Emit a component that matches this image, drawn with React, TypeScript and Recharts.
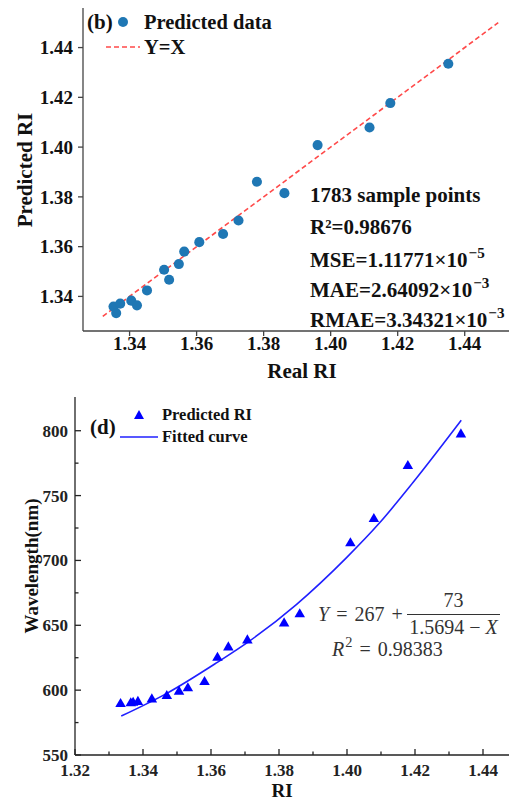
import { ComposedChart, Scatter, Line, XAxis, YAxis, ZAxis } from "recharts";

const serif = "'Liberation Serif', 'Times New Roman', serif";

// (b) predicted RI vs real RI
const realRI = [
  1.3352, 1.336, 1.3372, 1.3405, 1.3422, 1.3452, 1.3503, 1.3518, 1.3547, 1.3563,
  1.3608, 1.3679, 1.3725, 1.378, 1.3862, 1.3961, 1.4116, 1.4178, 1.4351,
];
const predictedRI = [
  1.3359, 1.3333, 1.3371, 1.3383, 1.3364, 1.3424, 1.3507, 1.3467, 1.353, 1.358,
  1.3618, 1.3651, 1.3705, 1.3861, 1.3815, 1.4008, 1.4079, 1.4177, 1.4335,
];
const identityX = [1.332, 1.45];
const riTicksB = [1.34, 1.36, 1.38, 1.4, 1.42, 1.44];

// (d) resonance wavelength vs RI
const sensorRI = [
  1.3334, 1.3364, 1.3371, 1.3385, 1.3426, 1.347, 1.3506, 1.3532, 1.3581, 1.3619,
  1.3651, 1.3707, 1.3815, 1.3861, 1.401, 1.4079, 1.4179, 1.4335,
];
const wavelength = [
  589.3, 589.9, 590.3, 590.9, 592.9, 595.5, 598.8, 601.4, 606.3, 625.0, 633.0,
  638.4, 651.5, 658.5, 713.2, 731.9, 772.8, 797.2,
];
const fitRI = [1.3336, 1.347, 1.3616, 1.3714, 1.3851, 1.3998, 1.4096, 1.4194, 1.4336];
const fitWavelength = [580, 597.5, 621, 638, 666, 702, 729, 760, 808];
const riMajor = [1.32, 1.34, 1.36, 1.38, 1.4, 1.42, 1.44];
const riMinor = [1.33, 1.35, 1.37, 1.39, 1.41, 1.43];
const wlMajor = [550, 600, 650, 700, 750, 800];
const wlMinor = [575, 625, 675, 725, 775];

const pointsB = realRI.map((x, i) => ({ x, y: predictedRI[i] }));
const identityData = identityX.map((x) => ({ x, y: x }));
const pointsD = sensorRI.map((x, i) => ({ x, y: wavelength[i] }));
const fitData = fitRI.map((x, i) => ({ x, y: fitWavelength[i] }));

const X_GAP = 9;
const Y_GAP = 7;
const isMajor = (list: number[], v: number) => list.some((m) => Math.abs(m - v) < 1e-6);

// inward ticks for panel (d), label only on major ticks
const XInTick = ({ x, y, payload }: any) => {
  const major = isMajor(riMajor, payload.value);
  const axisY = y - X_GAP;
  return (
    <g>
      <line x1={x} x2={x} y1={axisY} y2={axisY - (major ? 6 : 3.5)} stroke="#222" strokeWidth={1.3} />
      {major && (
        <text x={x} y={y} dy="0.71em" textAnchor="middle" fill="#222" fontSize={17} fontWeight={700} fontFamily={serif}>
          {payload.value.toFixed(2)}
        </text>
      )}
    </g>
  );
};

const YInTick = ({ x, y, payload }: any) => {
  const major = isMajor(wlMajor, payload.value);
  const axisX = x + Y_GAP;
  return (
    <g>
      <line x1={axisX} x2={axisX + (major ? 6 : 3.5)} y1={y} y2={y} stroke="#222" strokeWidth={1.3} />
      {major && (
        <text x={x} y={y} dy="0.35em" textAnchor="end" fill="#222" fontSize={17} fontWeight={700} fontFamily={serif}>
          {payload.value}
        </text>
      )}
    </g>
  );
};

const at = (left: number, cy: number, size: number, weight = 700): any => ({
  position: "absolute",
  left,
  top: cy - size / 2,
  fontSize: size,
  lineHeight: 1,
  fontWeight: weight,
  fontFamily: serif,
  whiteSpace: "nowrap",
  color: "#111",
});

const rotated = (cx: number, cy: number, size: number): any => ({
  position: "absolute",
  left: cx,
  top: cy,
  fontSize: size,
  lineHeight: 1,
  fontWeight: 700,
  fontFamily: serif,
  whiteSpace: "nowrap",
  color: "#111",
  transform: "translate(-50%, -50%) rotate(-90deg)",
});

const sup = { fontSize: "0.72em", verticalAlign: "0.6em", marginLeft: 1 };

export default function App() {
  const tickB = { fill: "#111", fontSize: 19, fontWeight: 700, fontFamily: serif };
  return (
    <div style={{ position: "absolute", left: 0, top: 0, width: 509, height: 799, overflow: "hidden", background: "#fff" }}>
      {/* panel (b) */}
      <div style={{ position: "absolute", left: 0, top: 0 }}>
        <ComposedChart width={520} height={385} margin={{ top: 8, right: 2, bottom: 24, left: 0 }}>
          <XAxis
            xAxisId="x"
            type="number"
            dataKey="x"
            domain={[1.3261, 1.4559]}
            ticks={riTicksB}
            allowDataOverflow
            height={30}
            tickSize={5}
            tickMargin={1}
            stroke="#444"
            strokeWidth={1.3}
            tick={tickB}
            tickFormatter={(v: number) => v.toFixed(2)}
          />
          <XAxis xAxisId="top" orientation="top" type="number" domain={[1.3261, 1.4559]} height={0} tick={false} tickLine={false} stroke="#444" strokeWidth={1.3} />
          <YAxis
            yAxisId="y"
            type="number"
            dataKey="y"
            domain={[1.3261, 1.4559]}
            ticks={riTicksB}
            allowDataOverflow
            width={83}
            tickSize={5}
            tickMargin={5}
            stroke="#444"
            strokeWidth={1.3}
            tick={tickB}
            tickFormatter={(v: number) => v.toFixed(2)}
          />
          <YAxis yAxisId="right" orientation="right" type="number" domain={[1.3261, 1.4559]} width={0} tick={false} tickLine={false} stroke="#444" strokeWidth={1.3} />
          <ZAxis range={[80, 80]} />
          <Line
            xAxisId="x"
            yAxisId="y"
            data={identityData}
            dataKey="y"
            stroke="#ff4a4a"
            strokeWidth={1.6}
            strokeDasharray="5 3"
            dot={false}
            isAnimationActive={false}
          />
          <Scatter xAxisId="x" yAxisId="y" data={pointsB} fill="#1f77b4" isAnimationActive={false} />
        </ComposedChart>
      </div>

      <div style={at(87, 22, 21)}>(b)</div>
      <svg style={{ position: "absolute", left: 117, top: 16 }} width={12} height={12}>
        <circle cx={6} cy={6} r={5} fill="#1f77b4" />
      </svg>
      <div style={at(144, 22, 20.5)}>Predicted data</div>
      <svg style={{ position: "absolute", left: 104, top: 44 }} width={38} height={6}>
        <line x1={2} x2={36} y1={3} y2={3} stroke="#ff4a4a" strokeWidth={1.6} strokeDasharray="5 3" />
      </svg>
      <div style={at(144, 47.5, 20.5)}>Y=X</div>

      <div style={at(310, 195, 21)}>1783 sample points</div>
      <div style={at(310, 227, 21)}>R²=0.98676</div>
      <div style={at(310, 256, 21)}>
        MSE=1.11771×10<span style={sup}>−5</span>
      </div>
      <div style={at(310, 286, 21)}>
        MAE=2.64092×10<span style={sup}>−3</span>
      </div>
      <div style={at(310, 316, 21)}>
        RMAE=3.34321×10<span style={sup}>−3</span>
      </div>

      <div style={rotated(25, 170, 21)}>Predicted RI</div>
      <div style={{ ...rotated(302, 371, 21), transform: "translate(-50%, -50%)" }}>Real RI</div>

      {/* panel (d) */}
      <div style={{ position: "absolute", left: 0, top: 385 }}>
        <ComposedChart width={520} height={414} margin={{ top: 12, right: 3, bottom: 14, left: 0 }}>
          <XAxis
            xAxisId="x"
            type="number"
            dataKey="x"
            domain={[1.32, 1.45]}
            ticks={[...riMajor, ...riMinor].sort((a, b) => a - b)}
            allowDataOverflow
            height={30}
            tickSize={0}
            tickMargin={X_GAP}
            tickLine={false}
            stroke="#222"
            strokeWidth={1.3}
            tick={<XInTick />}
          />
          <XAxis xAxisId="top" orientation="top" type="number" domain={[1.32, 1.45]} height={0} tick={false} tickLine={false} stroke="#222" strokeWidth={1.3} />
          <YAxis
            yAxisId="y"
            type="number"
            dataKey="y"
            domain={[550, 826]}
            ticks={[...wlMajor, ...wlMinor].sort((a, b) => a - b)}
            allowDataOverflow
            width={75}
            tickSize={0}
            tickMargin={Y_GAP}
            tickLine={false}
            stroke="#222"
            strokeWidth={1.3}
            tick={<YInTick />}
          />
          <YAxis yAxisId="right" orientation="right" type="number" domain={[550, 826]} width={0} tick={false} tickLine={false} stroke="#222" strokeWidth={1.3} />
          <ZAxis range={[48, 48]} />
          <Line
            xAxisId="x"
            yAxisId="y"
            data={fitData}
            dataKey="y"
            type="monotone"
            stroke="#2020ff"
            strokeWidth={1.6}
            dot={false}
            isAnimationActive={false}
          />
          <Scatter xAxisId="x" yAxisId="y" data={pointsD} shape="triangle" fill="#0000ff" isAnimationActive={false} />
        </ComposedChart>
      </div>

      <div style={at(90, 427, 21)}>(d)</div>
      <svg style={{ position: "absolute", left: 133, top: 409 }} width={12} height={11}>
        <polygon points="6,1 11,10 1,10" fill="#0000ff" />
      </svg>
      <div style={at(162, 415, 16.5)}>Predicted RI</div>
      <svg style={{ position: "absolute", left: 119, top: 435 }} width={40} height={4}>
        <line x1={1} x2={39} y1={2} y2={2} stroke="#2020ff" strokeWidth={1.6} />
      </svg>
      <div style={at(162, 437, 16.5)}>Fitted curve</div>

      <div style={{ ...at(318, 614, 20, 400), color: "#333", wordSpacing: 2 }}>
        <i>Y</i> = 267 +
      </div>
      <div style={{ ...at(407, 600, 20, 400), color: "#333", width: 93, textAlign: "center" }}>73</div>
      <div style={{ position: "absolute", left: 407, top: 614, width: 93, height: 1.3, background: "#333" }} />
      <div style={{ ...at(407, 627, 20, 400), color: "#333", width: 93, textAlign: "center" }}>
        1.5694 − <i>X</i>
      </div>
      <div style={{ ...at(332, 645, 20, 400), color: "#333", wordSpacing: 2 }}>
        <i>R</i>
        <span style={sup}>2</span> = 0.98383
      </div>

      <div style={rotated(31, 566, 19)}>Wavelength(nm)</div>
      <div style={{ ...rotated(282, 790, 19), transform: "translate(-50%, -50%)" }}>RI</div>
    </div>
  );
}
